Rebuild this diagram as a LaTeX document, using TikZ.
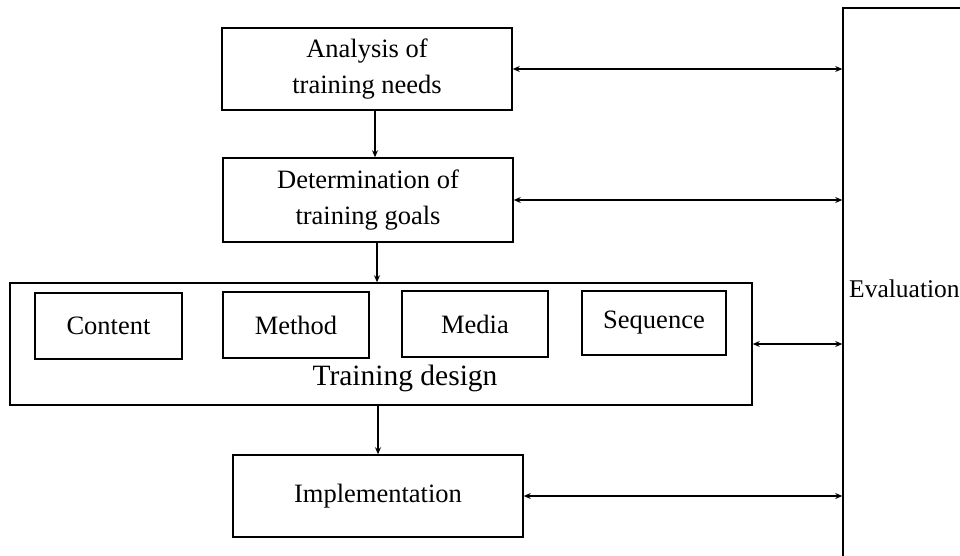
\documentclass[tikz,border=0pt]{standalone}
\usepackage{fontspec}
\setmainfont{Liberation Serif}
\usetikzlibrary{arrows.meta}
\begin{document}
\begin{tikzpicture}[x=1pt,y=-1pt,
  box/.style={draw, line width=1.5pt, inner sep=0pt, align=center, font=\fontsize{26.5}{36}\selectfont},
  lbl/.style={inner sep=0pt},
  arr/.style={line width=1.5pt, -{Stealth[length=7pt,width=6pt]}},
  darr/.style={line width=1.5pt, {Stealth[length=7pt,width=6pt]}-{Stealth[length=7pt,width=6pt]}}]
\useasboundingbox (0,0) rectangle (960,556);
\clip (0,0) rectangle (960,556);
\fill[white] (0,0) rectangle (960,556);
% main boxes
\node[box, minimum width=290, minimum height=82] (ana) at (367,69) {Analysis of\\training needs};
\node[box, minimum width=290, minimum height=84] (det) at (368,200) {Determination of\\training goals};
\node[box, minimum width=742, minimum height=122] (td) at (381,344) {};
\node[lbl, anchor=base, font=\fontsize{29.5}{34}\selectfont] (tdl) at (405,385) {Training design};
\node[box, minimum width=147, minimum height=66] (con) at (108.5,326) {Content};
\node[box, minimum width=146, minimum height=66] (met) at (296,325) {Method};
\node[box, minimum width=146, minimum height=66] (med) at (475,324) {Media};
\node[box, minimum width=144, minimum height=64] (seq) at (654,323) {Sequence};
\node[box, minimum width=290, minimum height=82] (imp) at (378,496) {Implementation};
\node[box, minimum width=157, minimum height=592] (eval) at (921.5,304) {};
\node[lbl, anchor=base west, font=\fontsize{25.5}{30}\selectfont] (evl) at (849,297) {Evaluation};
% columns for vertical arrows
\coordinate (ca) at (375,0);
\coordinate (cb) at (377,0);
\coordinate (cc) at (378,0);
% vertical arrows
\draw[arr] (ana.south -| ca) -- (det.north -| ca);
\draw[arr] (det.south -| cb) -- (td.north -| cb);
\draw[arr] (td.south -| cc) -- (imp.north -| cc);
% links with evaluation
\draw[darr] (ana.east) -- (ana.east -| eval.west);
\draw[darr] (det.east) -- (det.east -| eval.west);
\draw[darr] (td.east) -- (td.east -| eval.west);
\draw[darr] (imp.east) -- (imp.east -| eval.west);
\end{tikzpicture}
\end{document}
